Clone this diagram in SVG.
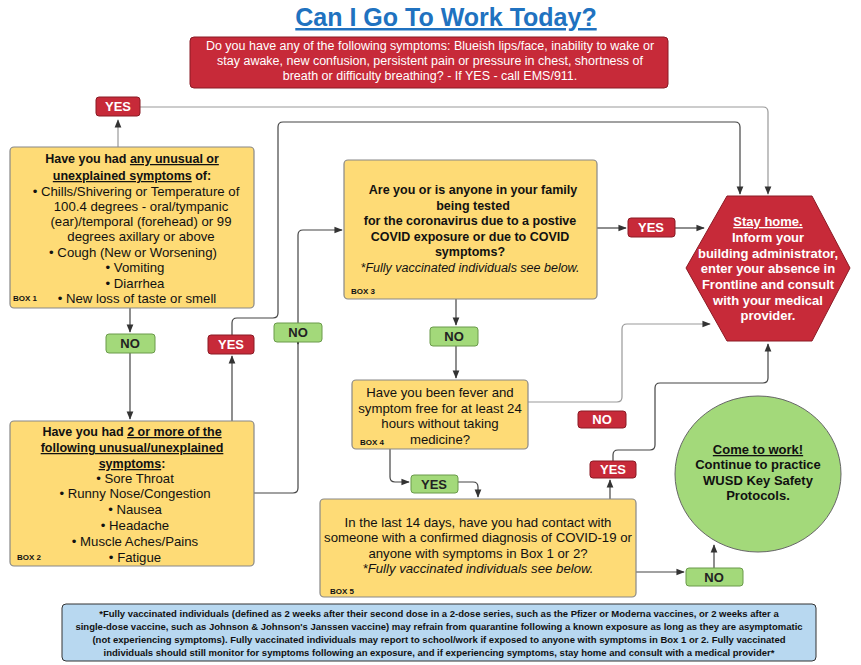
<svg xmlns="http://www.w3.org/2000/svg" width="861" height="665" viewBox="0 0 861 665">
<style>
text{font-family:"Liberation Sans",Arial,sans-serif;fill:#111}
.box{fill:#fedb76;stroke:#888;stroke-width:1.2}
.red{fill:#c72a39;stroke:#8a1a24;stroke-width:1}
.grn{fill:#a3d97a;stroke:#6a9a4a;stroke-width:1}
.lbl{font-size:13px;font-weight:bold;text-anchor:middle;fill:#fff}
.lg{font-size:13px;font-weight:bold;text-anchor:middle;fill:#222}
.t{font-size:12.5px;text-anchor:middle}
.u{font-size:13.2px}
.b{font-weight:bold}
.sm{font-size:8px;font-weight:bold}
.w{fill:#fff;font-weight:bold;font-size:13px;text-anchor:middle}
.c{fill:none;stroke:#444;stroke-width:1.2;marker-end:url(#a)}
.g{fill:none;stroke:#999;stroke-width:1.2;marker-end:url(#a)}
</style>
<defs><marker id="a" viewBox="0 0 10 10" refX="9" refY="5" markerWidth="7" markerHeight="7" orient="auto"><path d="M0,1L10,5L0,9z" fill="#333"/></marker></defs>
<rect width="861" height="665" fill="#fff"/>
<text x="446" y="26" font-size="25" font-weight="bold" text-anchor="middle" style="fill:#2072c0" text-decoration="underline">Can I Go To Work Today?</text>
<g id="emergency"><rect class="red" x="190" y="37" width="478" height="51" rx="4"/>
<text class="t" style="fill:#fff" x="430" y="50" font-size="13">Do you have any of the following symptoms:  Blueish lips/face, inability to wake or</text>
<text class="t" style="fill:#fff" x="430" y="65" font-size="13">stay awake, new confusion, persistent pain or pressure in chest, shortness of</text>
<text class="t" style="fill:#fff" x="430" y="80" font-size="13">breath or difficulty breathing? - If YES - call EMS/911.</text></g>
<g id="connectors">
<path class="g" d="M118,147V120"/>
<path class="g" d="M140,107H763Q768,107 768,112V194"/>
<path class="c" d="M232,335V323Q232,318 237,318H273Q278,318 278,313V127Q278,122 283,122H735Q740,122 740,127V194"/>
<path class="c" d="M130,308V332"/>
<path class="c" d="M130,353V419"/>
<path class="c" d="M232,421V356"/>
<path class="c" d="M254,493H293Q298,493 298,488V235Q298,230 303,230H342"/>
<path class="c" d="M298,323V344"/>
<path class="c" d="M597,228H626"/>
<path class="c" d="M675,228H704"/>
<path class="c" d="M456,299V325"/>
<path class="c" d="M456,346V378"/>
<path class="g" d="M528,402H617Q622,402 622,397V329Q622,324 627,324H710"/>
<path class="c" d="M390,449V477Q390,482 395,482H409"/>
<path class="c" d="M458,482H473Q478,482 478,487V497"/>
<path class="c" d="M610,499V480"/>
<path class="c" d="M613,461V455Q613,450 618,450H650Q655,450 655,445V388Q655,383 660,383H763Q768,383 768,378V344"/>
<path class="c" d="M636,572H684"/>
<path class="c" d="M714,568V545"/>
</g>
<g id="yes1"><rect class="red" x="96" y="97" width="44" height="19" rx="3"/><text class="lbl" x="118" y="111">YES</text></g>
<g id="box1"><rect class="box" x="10" y="147" width="244" height="161" rx="4"/>
<text class="t b" font-size="14" x="132" y="163">Have you had <tspan text-decoration="underline">any unusual or</tspan></text>
<text class="t b" font-size="14" x="132" y="180"><tspan text-decoration="underline">unexplained symptoms</tspan> of:</text>
<text class="t u" x="136" y="196">• Chills/Shivering or Temperature of</text>
<text class="t u" x="141" y="211">100.4 degrees - oral/tympanic</text>
<text class="t u" x="141" y="226">(ear)/temporal (forehead) or 99</text>
<text class="t u" x="141" y="241">degrees axillary or above</text>
<text class="t u" x="133" y="257">• Cough (New or Worsening)</text>
<text class="t u" x="135" y="272">• Vomiting</text>
<text class="t u" x="135" y="288">• Diarrhea</text>
<text class="t u" x="137" y="303">• New loss of taste or smell</text>
<text class="sm" x="13" y="301">BOX 1</text></g>
<g id="no1"><rect class="grn" x="106" y="334" width="49" height="19" rx="3"/><text class="lg" x="130" y="348">NO</text></g>
<g id="yes2"><rect class="red" x="208" y="335" width="46" height="19" rx="3"/><text class="lbl" x="231" y="349">YES</text></g>
<g id="no2"><rect class="grn" x="274" y="323" width="48" height="19" rx="3"/><text class="lg" x="298" y="337">NO</text></g>
<g id="box2"><rect class="box" x="10" y="421" width="244" height="145" rx="4"/>
<text class="t b" font-size="14" x="132" y="436">Have you had <tspan text-decoration="underline">2 or more of the</tspan></text>
<text class="t b" font-size="14" x="132" y="452" text-decoration="underline">following unusual/unexplained</text>
<text class="t b" font-size="14" x="132" y="468"><tspan text-decoration="underline">symptoms</tspan>:</text>
<text class="t u" x="135" y="483">• Sore Throat</text>
<text class="t u" x="135" y="498">• Runny Nose/Congestion</text>
<text class="t u" x="135" y="514">• Nausea</text>
<text class="t u" x="135" y="530">• Headache</text>
<text class="t u" x="135" y="546">• Muscle Aches/Pains</text>
<text class="t u" x="135" y="562">• Fatigue</text>
<text class="sm" x="17" y="560">BOX 2</text></g>
<g id="box3"><rect class="box" x="344" y="160" width="253" height="139" rx="4"/>
<text class="t b" font-size="13" x="473" y="194">Are you or is anyone in your family</text>
<text class="t b" font-size="13" x="473" y="210">being tested</text>
<text class="t b" font-size="13" x="470" y="225">for the coronavirus due to a postive</text>
<text class="t b" font-size="13" x="470" y="241">COVID exposure or due to COVID</text>
<text class="t b" font-size="13" x="470" y="256">symptoms?</text>
<text class="t" x="470" y="272" font-style="italic">*Fully vaccinated individuals see below.</text>
<text class="sm" x="351" y="294">BOX 3</text></g>
<g id="yes3"><rect class="red" x="628" y="218" width="47" height="19" rx="3"/><text class="lbl" x="651" y="232">YES</text></g>
<g id="stayhome"><polygon class="red" points="727,196 812,196 850,268 812,341 727,341 686,268"/>
<text class="w" x="768" y="226" text-decoration="underline">Stay home.</text>
<text class="w" x="768" y="242">Inform your</text>
<text class="w" x="768" y="258">building administrator,</text>
<text class="w" x="768" y="273">enter your absence in</text>
<text class="w" x="768" y="289">Frontline and consult</text>
<text class="w" x="768" y="305">with your medical</text>
<text class="w" x="768" y="320">provider.</text></g>
<g id="no3"><rect class="grn" x="430" y="327" width="48" height="19" rx="3"/><text class="lg" x="454" y="341">NO</text></g>
<g id="box4"><rect class="box" x="352" y="380" width="176" height="69" rx="4"/>
<text class="t u" x="440" y="397">Have you been fever and</text>
<text class="t u" x="440" y="413">symptom free for at least 24</text>
<text class="t u" x="440" y="428">hours without taking</text>
<text class="t u" x="440" y="444">medicine?</text>
<text class="sm" x="360" y="445">BOX 4</text></g>
<g id="no4"><rect class="red" x="578" y="411" width="48" height="17" rx="3"/><text class="lbl" x="602" y="424">NO</text></g>
<g id="yes4"><rect class="grn" x="411" y="475" width="47" height="18" rx="3"/><text class="lg" x="434" y="489">YES</text></g>
<g id="yes5"><rect class="red" x="590" y="461" width="46" height="17" rx="3"/><text class="lbl" x="613" y="474">YES</text></g>
<g id="box5"><rect class="box" x="320" y="499" width="316" height="98" rx="4"/>
<text class="t u" x="478" y="527">In the last 14 days, have you had contact with</text>
<text class="t u" x="478" y="542">someone with a confirmed diagnosis of COVID-19 or</text>
<text class="t u" x="478" y="558">anyone with symptoms in Box 1 or 2?</text>
<text class="t u" x="478" y="573" font-style="italic">*Fully vaccinated individuals see below.</text>
<text class="sm" x="330" y="594">BOX 5</text></g>
<g id="work"><ellipse cx="758" cy="474" rx="83" ry="78" fill="#a3d97a" stroke="#666" stroke-width="1"/>
<text class="lg" style="fill:#111" x="758" y="454" text-decoration="underline">Come to work!</text>
<text class="lg" style="fill:#111" x="758" y="469">Continue to practice</text>
<text class="lg" style="fill:#111" x="758" y="485">WUSD Key Safety</text>
<text class="lg" style="fill:#111" x="758" y="500">Protocols.</text></g>
<g id="no5"><rect class="grn" x="686" y="568" width="57" height="18" rx="3"/><text class="lg" x="714" y="582">NO</text></g>
<g id="footnote"><rect x="62" y="604" width="754" height="57" rx="4" fill="#b8d8f0" stroke="#333" stroke-width="1"/>
<text x="439" y="617" font-size="9.5" font-weight="bold" text-anchor="middle">*Fully vaccinated individuals (defined as 2 weeks after their second dose in a 2-dose series, such as the Pfizer or Moderna vaccines, or 2 weeks after a</text>
<text x="439" y="630" font-size="9.5" font-weight="bold" text-anchor="middle">single-dose vaccine, such as Johnson &amp; Johnson's Janssen vaccine) may refrain from quarantine following a known exposure as long as they are asymptomatic</text>
<text x="439" y="643" font-size="9.5" font-weight="bold" text-anchor="middle">(not experiencing symptoms). Fully vaccinated individuals may report to school/work if exposed to anyone with symptoms in Box 1 or 2. Fully vaccinated</text>
<text x="439" y="656" font-size="9.5" font-weight="bold" text-anchor="middle">individuals should still monitor for symptoms following an exposure, and if experiencing symptoms, stay home and consult with a medical provider*</text></g>
</svg>
